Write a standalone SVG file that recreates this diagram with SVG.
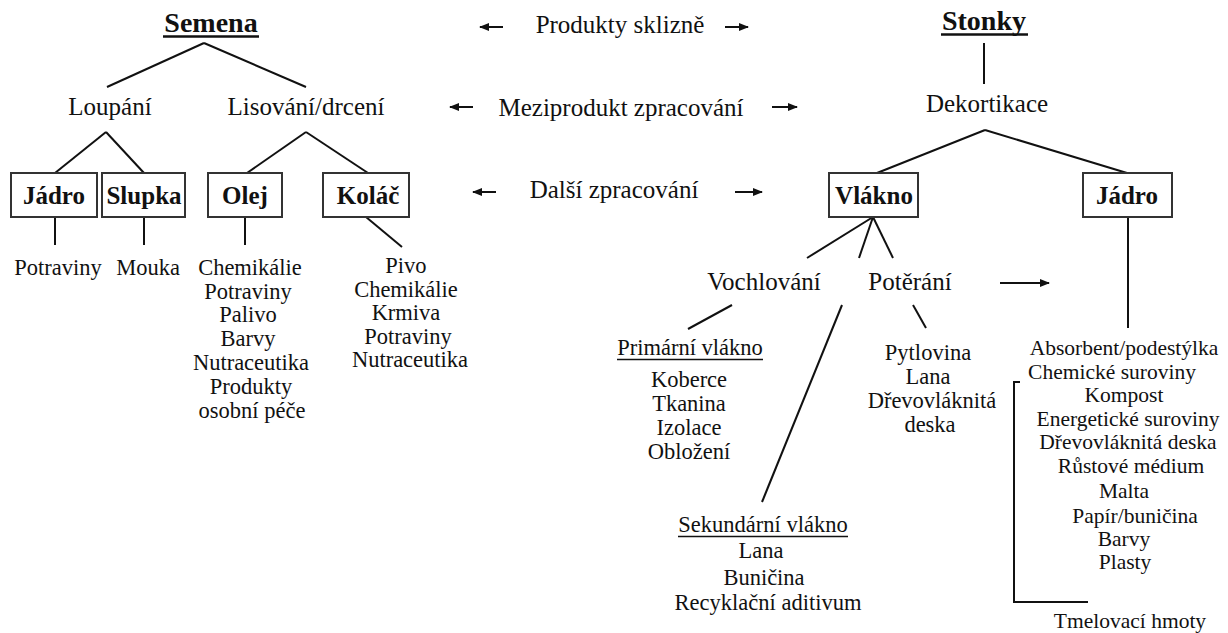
<svg xmlns="http://www.w3.org/2000/svg" width="1228" height="633" viewBox="0 0 1228 633">
<defs>
<marker id="ah" viewBox="0 0 10 8" refX="9" refY="4" markerWidth="10" markerHeight="8" markerUnits="userSpaceOnUse" orient="auto"><path d="M0,0 L10,4 L0,8 z" fill="#111"/></marker>
</defs>
<style>
text{font-family:'Liberation Serif','DejaVu Serif',serif;fill:#111;text-anchor:middle}
.t{font-size:25px}
.h{font-size:28px;font-weight:bold}
.b{font-size:25px;font-weight:bold}
.s{font-size:22.5px}
.r{font-size:21.5px}
.ln{stroke:#111;stroke-width:2;fill:none}
.ul{stroke:#111;stroke-width:1.5}
.ulh{stroke:#111;stroke-width:2.5}
.box{fill:#fff;stroke:#333;stroke-width:2}
.ar{stroke:#111;stroke-width:2;marker-end:url(#ah)}
</style>
<rect width="1228" height="633" fill="#fff"/>

<g id="connectors">
<line class="ln" x1="204" y1="43" x2="107" y2="87"/>
<line class="ln" x1="204" y1="43" x2="306" y2="87"/>
<line class="ln" x1="106" y1="132" x2="55" y2="173"/>
<line class="ln" x1="106" y1="132" x2="144" y2="173"/>
<line class="ln" x1="306" y1="132" x2="247" y2="173"/>
<line class="ln" x1="306" y1="132" x2="368" y2="173"/>
<line class="ln" x1="55" y1="217" x2="55" y2="245"/>
<line class="ln" x1="144" y1="217" x2="144" y2="245"/>
<line class="ln" x1="245" y1="217" x2="245" y2="245"/>
<line class="ln" x1="366" y1="217" x2="402" y2="247"/>
<line class="ln" x1="984" y1="43" x2="984" y2="84"/>
<line class="ln" x1="985" y1="130" x2="877" y2="173"/>
<line class="ln" x1="985" y1="130" x2="1127" y2="173"/>
<line class="ln" x1="873" y1="217" x2="807" y2="258"/>
<line class="ln" x1="873" y1="217" x2="859" y2="258"/>
<line class="ln" x1="873" y1="217" x2="893" y2="258"/>
<line class="ln" x1="732" y1="305" x2="688" y2="329"/>
<line class="ln" x1="842" y1="305" x2="762" y2="502"/>
<line class="ln" x1="913" y1="305" x2="926" y2="328"/>
<line class="ln" x1="1128" y1="217" x2="1128" y2="328"/>
<polyline class="ln" points="1020,382 1014,382 1014,602 1088,602"/>
<line class="ar" x1="503" y1="27" x2="480" y2="27"/>
<line class="ar" x1="725" y1="27" x2="748" y2="27"/>
<line class="ar" x1="473" y1="107" x2="450" y2="107"/>
<line class="ar" x1="772" y1="107" x2="797" y2="107"/>
<line class="ar" x1="496" y1="192" x2="473" y2="192"/>
<line class="ar" x1="735" y1="192" x2="762" y2="192"/>
<line class="ar" x1="1000" y1="283" x2="1049" y2="283"/>
</g>

<g id="semena">
<text class="h" x="211" y="32">Semena</text>
<line class="ulh" x1="163" y1="36.5" x2="259" y2="36.5"/>
</g>
<g id="stonky">
<text class="h" x="984" y="30">Stonky</text>
<line class="ulh" x1="941" y1="34.5" x2="1028" y2="34.5"/>
</g>

<g id="produkty-sklizne"><text class="t" x="620" y="33">Produkty sklizně</text></g>
<g id="meziprodukt"><text class="t" x="621" y="116">Meziprodukt zpracování</text></g>
<g id="dalsi"><text class="t" x="614" y="198">Další zpracování</text></g>

<g id="loupani"><text class="t" x="110" y="115">Loupání</text></g>
<g id="lisovani"><text class="t" x="306" y="115">Lisování/drcení</text></g>
<g id="dekortikace"><text class="t" x="987" y="112">Dekortikace</text></g>

<g id="jadro1"><rect class="box" x="11" y="173" width="86" height="44"/><text class="b" x="54" y="204">Jádro</text></g>
<g id="slupka"><rect class="box" x="102" y="173" width="83" height="44"/><text class="b" x="144" y="204">Slupka</text></g>
<g id="olej"><rect class="box" x="208" y="173" width="74" height="44"/><text class="b" x="245" y="204">Olej</text></g>
<g id="kolac"><rect class="box" x="323" y="173" width="86" height="44"/><text class="b" x="368" y="204">Koláč</text></g>
<g id="vlakno"><rect class="box" x="829" y="173" width="89" height="44"/><text class="b" x="874" y="204">Vlákno</text></g>
<g id="jadro2"><rect class="box" x="1083" y="173" width="89" height="44"/><text class="b" x="1127" y="204">Jádro</text></g>

<g id="potraviny1"><text class="s" x="58" y="275">Potraviny</text></g>
<g id="mouka"><text class="s" x="148" y="275">Mouka</text></g>
<g id="olej-produkty">
<text class="s" x="250" y="275">Chemikálie</text>
<text class="s" x="248" y="299">Potraviny</text>
<text class="s" x="248" y="322">Palivo</text>
<text class="s" x="248" y="346">Barvy</text>
<text class="s" x="251" y="370">Nutraceutika</text>
<text class="s" x="251" y="394">Produkty</text>
<text class="s" x="252" y="418">osobní péče</text>
</g>
<g id="kolac-produkty">
<text class="s" x="406" y="273">Pivo</text>
<text class="s" x="406" y="297">Chemikálie</text>
<text class="s" x="406" y="320">Krmiva</text>
<text class="s" x="408" y="344">Potraviny</text>
<text class="s" x="410" y="367">Nutraceutika</text>
</g>

<g id="vochlovani"><text class="t" x="764" y="290">Vochlování</text></g>
<g id="poterani"><text class="t" x="910" y="290">Potěrání</text></g>

<g id="primarni">
<text class="s" x="690" y="355">Primární vlákno</text>
<line class="ul" x1="617" y1="359.5" x2="763" y2="359.5"/>
<text class="s" x="689" y="387">Koberce</text>
<text class="s" x="689" y="411">Tkanina</text>
<text class="s" x="689" y="435">Izolace</text>
<text class="s" x="689" y="459">Obložení</text>
</g>
<g id="poterani-produkty">
<text class="s" x="928" y="360">Pytlovina</text>
<text class="s" x="928" y="384">Lana</text>
<text class="s" x="932" y="408">Dřevovláknitá</text>
<text class="s" x="930" y="432">deska</text>
</g>
<g id="sekundarni">
<text class="s" x="763" y="532">Sekundární vlákno</text>
<line class="ul" x1="678" y1="536.5" x2="848" y2="536.5"/>
<text class="s" x="761" y="558">Lana</text>
<text class="s" x="764" y="585">Buničina</text>
<text class="s" x="768" y="610">Recyklační aditivum</text>
</g>
<g id="jadro-produkty">
<text class="r" x="1124" y="355">Absorbent/podestýlka</text>
<text class="r" x="1112" y="379">Chemické suroviny</text>
<text class="r" x="1124" y="402">Kompost</text>
<text class="r" x="1128" y="426">Energetické suroviny</text>
<text class="r" x="1128" y="449">Dřevovláknitá deska</text>
<text class="r" x="1131" y="473">Růstové médium</text>
<text class="r" x="1124" y="498">Malta</text>
<text class="r" x="1135" y="523">Papír/buničina</text>
<text class="r" x="1124" y="546">Barvy</text>
<text class="r" x="1125" y="569">Plasty</text>
<text class="r" x="1130" y="628">Tmelovací hmoty</text>
</g>
</svg>
